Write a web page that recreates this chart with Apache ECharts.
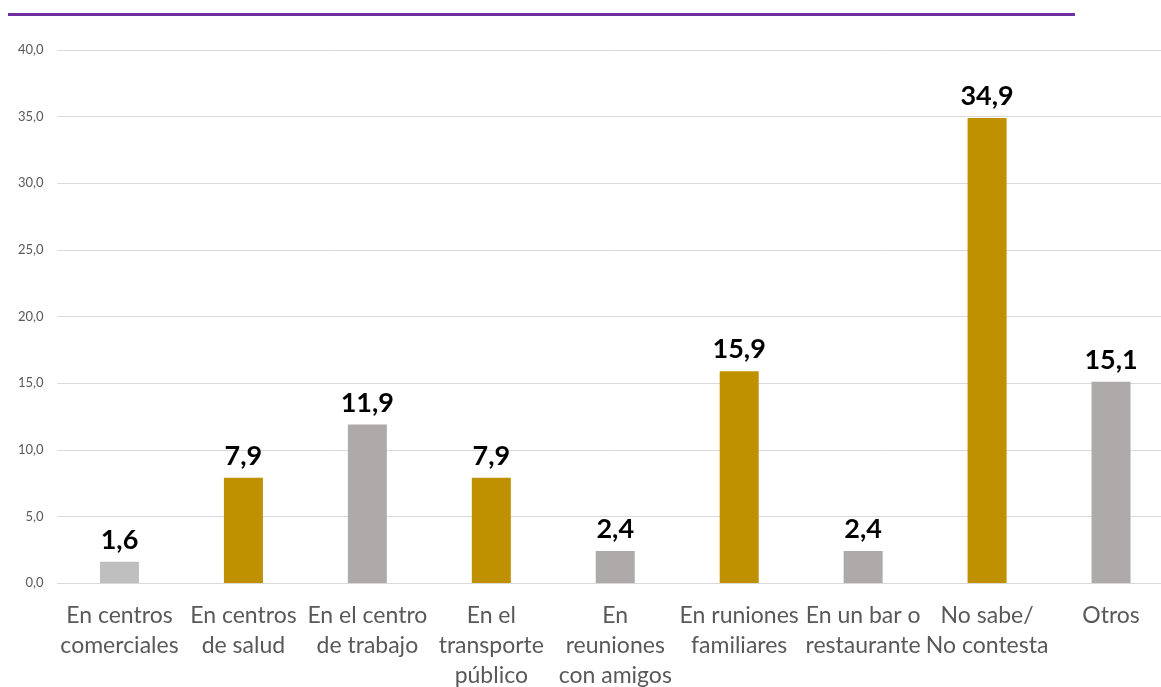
<!DOCTYPE html>
<html><head><meta charset="utf-8">
<script src="https://cdn.jsdelivr.net/npm/echarts@6/dist/echarts.min.js"></script>
<style>html,body{margin:0;padding:0;background:#fff;overflow:hidden}#c{width:1161px;height:687px;overflow:hidden}</style>
</head><body><div id="c"></div>
<script>
const categories = ["En centros\ncomerciales","En centros\nde salud","En el centro\nde trabajo","En el\ntransporte\npúblico","En\nreuniones\ncon amigos","En runiones\nfamiliares","En un bar o\nrestaurante","No sabe/\nNo contesta","Otros"];
const values = [1.6, 7.9, 11.9, 7.9, 2.4, 15.9, 2.4, 34.9, 15.1];
const barColors = ["#bfbfbf","#bf9000","#aeaaaa","#bf9000","#aeaaaa","#bf9000","#aeaaaa","#bf9000","#aeaaaa"];
const yTicks = {min: 0, max: 40, interval: 5};
const FONT = "Lato";
const fmt = v => v.toFixed(1).replace('.', ',');

const chart = echarts.init(document.getElementById('c'), null, {renderer: 'canvas', width: 1161, height: 687});
chart.setOption({
  animation: false,
  textStyle: {fontFamily: FONT},
  graphic: [{type: 'line', shape: {x1: 8, y1: 14.5, x2: 1075, y2: 14.5}, style: {stroke: '#7030a0', lineWidth: 3}}],
  grid: {left: 57.5, top: 50, width: 1115.5, height: 533, containLabel: false, outerBoundsMode: 'none'},
  xAxis: {
    type: 'category', data: categories,
    axisLine: {show: true, lineStyle: {color: '#d9d9d9', width: 1}},
    axisTick: {show: false},
    axisLabel: {interval: 0, color: '#595959', fontSize: 23, fontFamily: FONT, lineHeight: 30, margin: 18, overflow: 'none'}
  },
  yAxis: {
    type: 'value', min: yTicks.min, max: yTicks.max, interval: yTicks.interval,
    axisLine: {show: false}, axisTick: {show: false},
    splitLine: {lineStyle: {color: '#d9d9d9', width: 1}},
    axisLabel: {color: '#595959', fontSize: 13, fontFamily: FONT, margin: 14, formatter: v => fmt(v)}
  },
  series: [{
    type: 'bar', barWidth: 39,
    data: values.map((v, i) => ({value: v, itemStyle: {color: barColors[i]}})),
    label: {show: true, position: 'top', distance: 8, color: '#000', fontWeight: 'bold', fontSize: 27, fontFamily: FONT, formatter: p => fmt(p.value)}
  }]
});
</script></body></html>
